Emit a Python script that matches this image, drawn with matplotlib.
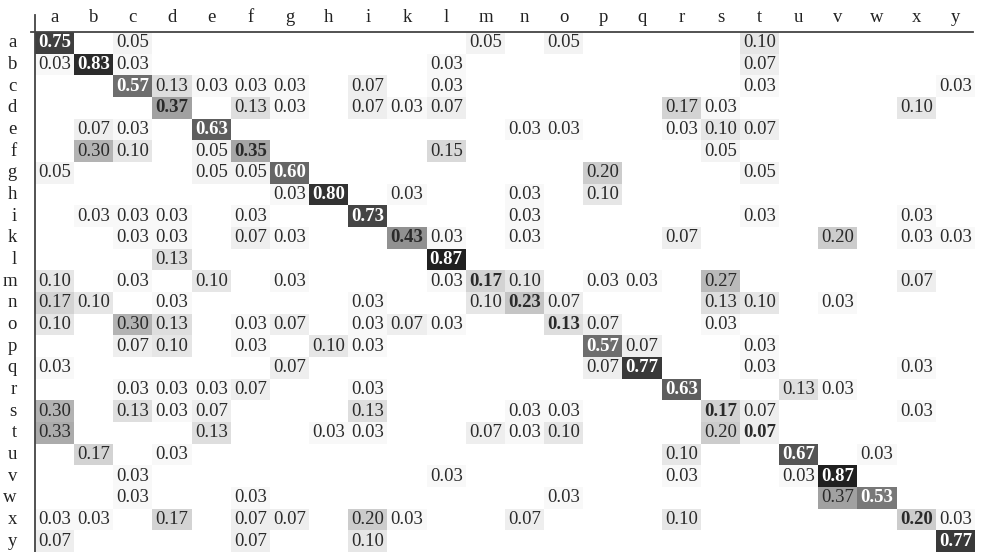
import numpy as np
import matplotlib
matplotlib.use("Agg")
import matplotlib.pyplot as plt

labels = list("abcdefghiklmnopqrstuvwxy")

# confusion rows: {predicted letter: share}
rows = {
    "a": {"a": 0.75, "c": 0.05, "m": 0.05, "o": 0.05, "t": 0.10},
    "b": {"a": 0.03, "b": 0.83, "c": 0.03, "l": 0.03, "t": 0.07},
    "c": {"c": 0.57, "d": 0.13, "e": 0.03, "f": 0.03, "g": 0.03, "i": 0.07, "l": 0.03, "t": 0.03, "y": 0.03},
    "d": {"d": 0.37, "f": 0.13, "g": 0.03, "i": 0.07, "k": 0.03, "l": 0.07, "r": 0.17, "s": 0.03, "x": 0.10},
    "e": {"b": 0.07, "c": 0.03, "e": 0.63, "n": 0.03, "o": 0.03, "r": 0.03, "s": 0.10, "t": 0.07},
    "f": {"b": 0.30, "c": 0.10, "e": 0.05, "f": 0.35, "l": 0.15, "s": 0.05},
    "g": {"a": 0.05, "e": 0.05, "f": 0.05, "g": 0.60, "p": 0.20, "t": 0.05},
    "h": {"g": 0.03, "h": 0.80, "k": 0.03, "n": 0.03, "p": 0.10},
    "i": {"b": 0.03, "c": 0.03, "d": 0.03, "f": 0.03, "i": 0.73, "n": 0.03, "t": 0.03, "x": 0.03},
    "k": {"c": 0.03, "d": 0.03, "f": 0.07, "g": 0.03, "k": 0.43, "l": 0.03, "n": 0.03, "r": 0.07, "v": 0.20, "x": 0.03, "y": 0.03},
    "l": {"d": 0.13, "l": 0.87},
    "m": {"a": 0.10, "c": 0.03, "e": 0.10, "g": 0.03, "l": 0.03, "m": 0.17, "n": 0.10, "p": 0.03, "q": 0.03, "s": 0.27, "x": 0.07},
    "n": {"a": 0.17, "b": 0.10, "d": 0.03, "i": 0.03, "m": 0.10, "n": 0.23, "o": 0.07, "s": 0.13, "t": 0.10, "v": 0.03},
    "o": {"a": 0.10, "c": 0.30, "d": 0.13, "f": 0.03, "g": 0.07, "i": 0.03, "k": 0.07, "l": 0.03, "o": 0.13, "p": 0.07, "s": 0.03},
    "p": {"c": 0.07, "d": 0.10, "f": 0.03, "h": 0.10, "i": 0.03, "p": 0.57, "q": 0.07, "t": 0.03},
    "q": {"a": 0.03, "g": 0.07, "p": 0.07, "q": 0.77, "t": 0.03, "x": 0.03},
    "r": {"c": 0.03, "d": 0.03, "e": 0.03, "f": 0.07, "i": 0.03, "r": 0.63, "u": 0.13, "v": 0.03},
    "s": {"a": 0.30, "c": 0.13, "d": 0.03, "e": 0.07, "i": 0.13, "n": 0.03, "o": 0.03, "s": 0.17, "t": 0.07, "x": 0.03},
    "t": {"a": 0.33, "e": 0.13, "h": 0.03, "i": 0.03, "m": 0.07, "n": 0.03, "o": 0.10, "s": 0.20, "t": 0.07},
    "u": {"b": 0.17, "d": 0.03, "r": 0.10, "u": 0.67, "w": 0.03},
    "v": {"c": 0.03, "l": 0.03, "r": 0.03, "u": 0.03, "v": 0.87},
    "w": {"c": 0.03, "f": 0.03, "o": 0.03, "v": 0.37, "w": 0.53},
    "x": {"a": 0.03, "b": 0.03, "d": 0.17, "f": 0.07, "g": 0.07, "i": 0.20, "k": 0.03, "n": 0.07, "r": 0.10, "x": 0.20, "y": 0.03},
    "y": {"a": 0.07, "f": 0.07, "i": 0.10, "y": 0.77},
}

n = len(labels)
mat = np.zeros((n, n))
for i, r in enumerate(labels):
    for c, v in rows[r].items():
        mat[i, labels.index(c)] = v

plt.rcParams["font.family"] = ["Liberation Serif", "DejaVu Serif"]

fig = plt.figure(figsize=(9.81, 5.52), dpi=100)
W, H = 981, 552
ax = fig.add_axes([35 / W, 0 / H, 940 / W, 520 / H])

ax.imshow(mat, cmap="gray_r", vmin=0, vmax=1.0, aspect="auto",
          interpolation="nearest", extent=(-0.5, n - 0.5, n - 0.5, -0.5))

for i in range(n):
    for j in range(n):
        v = mat[i, j]
        if v == 0:
            continue
        col = "white" if v > 0.5 else "#2a2a2a"
        ax.text(j, i, "%.2f" % v, ha="center", va="center", fontsize=13.5,
                color=col, fontweight="bold" if i == j else "normal")

ax.set_xticks(range(n))
ax.set_xticklabels(labels)
ax.set_yticks(range(n))
ax.set_yticklabels(labels, va="center")
ax.xaxis.tick_top()
ax.tick_params(length=0, labelsize=13.5, colors="#222222", pad=4)
ax.tick_params(axis="y", pad=13)
for s in ax.spines.values():
    s.set_visible(False)

# frame lines: one under the header, one right of the row labels
ax.plot([-0.6, n - 0.55], [-0.5, -0.5], color="#444444", lw=1.3, clip_on=False)
ax.plot([-0.5, -0.5], [-1.3, n - 0.5], color="#444444", lw=1.3, clip_on=False)
ax.set_xlim(-0.5, n - 0.5)
ax.set_ylim(n - 0.5, -0.5)

fig.savefig("out.png", dpi=100)
